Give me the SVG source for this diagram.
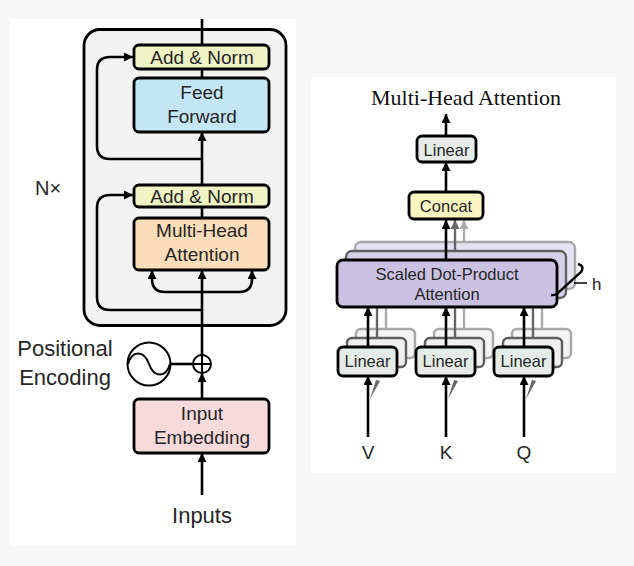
<svg xmlns="http://www.w3.org/2000/svg" width="634" height="566" viewBox="0 0 634 566">
<defs>
<style>
.lbl{font-family:"Liberation Sans",Arial,sans-serif;fill:#262626;text-anchor:middle}
.box{stroke:#000;stroke-width:2.8}
.ln{fill:none;stroke:#000;stroke-width:2.6}
.g1{fill:none;stroke:#666;stroke-width:2.4}
.g2{fill:none;stroke:#aaa;stroke-width:2.4}
</style>
<marker id="ah" viewBox="0 0 10 10" refX="10" refY="5" markerWidth="9" markerHeight="9" markerUnits="userSpaceOnUse" orient="auto"><path d="M0,0 L10,5 L0,10 Z" fill="#000"/></marker>
<marker id="ah1" viewBox="0 0 10 10" refX="10" refY="5" markerWidth="9" markerHeight="9" markerUnits="userSpaceOnUse" orient="auto"><path d="M0,0 L10,5 L0,10 Z" fill="#666"/></marker>
<marker id="ah2" viewBox="0 0 10 10" refX="10" refY="5" markerWidth="9" markerHeight="9" markerUnits="userSpaceOnUse" orient="auto"><path d="M0,0 L10,5 L0,10 Z" fill="#aaa"/></marker>
<filter id="blur" x="-10%" y="-10%" width="120%" height="120%"><feGaussianBlur stdDeviation="0.6"/></filter>
</defs>
<rect width="634" height="566" fill="#f7f7f7"/>
<rect x="10" y="19" width="286" height="527" fill="#fff"/>
<rect x="311" y="77" width="305" height="396" fill="#fff"/>

<g id="encoder">
<rect x="84" y="29.5" width="202" height="296" rx="16" fill="#f2f2f2" stroke="#000" stroke-width="2.8"/>
</g>
<text class="lbl" x="48" y="195" font-size="20">N×</text>

<g id="shadows" filter="url(#blur)">
<rect x="355" y="242" width="220" height="47" rx="6" fill="#e6e2f1" stroke="#a8a8a8" stroke-width="2.4"/>
<rect x="346" y="251" width="220" height="47" rx="6" fill="#d6cfe9" stroke="#5e5e5e" stroke-width="2.4"/>
<rect x="356" y="329" width="59" height="29" rx="5" fill="#f3f5f4" stroke="#a8a8a8" stroke-width="2.4"/>
<rect x="347" y="338" width="59" height="29" rx="5" fill="#eef1ef" stroke="#5e5e5e" stroke-width="2.4"/>
<rect x="434" y="329" width="59" height="29" rx="5" fill="#f3f5f4" stroke="#a8a8a8" stroke-width="2.4"/>
<rect x="425" y="338" width="59" height="29" rx="5" fill="#eef1ef" stroke="#5e5e5e" stroke-width="2.4"/>
<rect x="512" y="329" width="59" height="29" rx="5" fill="#f3f5f4" stroke="#a8a8a8" stroke-width="2.4"/>
<rect x="503" y="338" width="59" height="29" rx="5" fill="#eef1ef" stroke="#5e5e5e" stroke-width="2.4"/>
<path d="M370,399 L380,381 L376,380 Z" fill="#666"/>
<path d="M448,399 L458,381 L454,380 Z" fill="#666"/>
<path d="M526,399 L536,381 L532,380 Z" fill="#666"/>
</g>

<g id="connectors">
<path class="ln" d="M202,19 V45"/>
<path class="ln" d="M202,69 V78"/>
<path class="ln" d="M202,185 V132" marker-end="url(#ah)"/>
<path class="ln" d="M202,207 V218"/>
<path class="ln" d="M202,159 H110 Q97,159 97,146 V70 Q97,57 110,57 H133" marker-end="url(#ah)"/>
<path class="ln" d="M202,310 H110 Q97,310 97,297 V208 Q97,195 110,195 H133" marker-end="url(#ah)"/>
<path class="ln" d="M202,355 V270" marker-end="url(#ah)"/>
<path class="ln" d="M202,292 H165 Q152,292 152,279 V270" marker-end="url(#ah)"/>
<path class="ln" d="M202,292 H239 Q252,292 252,279 V270" marker-end="url(#ah)"/>
<path class="ln" d="M171,364 H192"/>
<path class="ln" d="M202,399 V373" marker-end="url(#ah)"/>
<path class="ln" d="M202,495 V453" marker-end="url(#ah)"/>

<path class="g2" d="M464,242 V220" marker-end="url(#ah2)"/>
<path class="g1" d="M455,251 V220" marker-end="url(#ah1)"/>
<path class="ln" d="M446,260 V220" marker-end="url(#ah)"/>
<path class="ln" d="M446,192 V162" marker-end="url(#ah)"/>
<path class="ln" d="M446,136 V114" marker-end="url(#ah)"/>
<path class="g2" d="M386,329 V289 M464,329 V289 M542,329 V289"/>
<path class="g1" d="M377,338 V298 M455,338 V298 M533,338 V298"/>
<path class="ln" d="M368,347 V307" marker-end="url(#ah)"/>
<path class="ln" d="M446,347 V307" marker-end="url(#ah)"/>
<path class="ln" d="M524,347 V307" marker-end="url(#ah)"/>
<path class="ln" d="M368,437 V376" marker-end="url(#ah)"/>
<path class="ln" d="M446,437 V376" marker-end="url(#ah)"/>
<path class="ln" d="M524,437 V376" marker-end="url(#ah)"/>
</g>

<g id="addnorm2"><rect class="box" x="134" y="45" width="135" height="24" rx="5" fill="#f0f3c3"/><text class="lbl" x="202" y="64" font-size="19">Add &amp; Norm</text></g>
<g id="feedforward"><rect class="box" x="134" y="78" width="135" height="54" rx="5" fill="#c4e5f5"/><text class="lbl" x="202" y="99" font-size="19">Feed</text><text class="lbl" x="202" y="123" font-size="19">Forward</text></g>
<g id="addnorm1"><rect class="box" x="134" y="185" width="135" height="22" rx="5" fill="#f0f3c3"/><text class="lbl" x="202" y="203" font-size="19">Add &amp; Norm</text></g>
<g id="mha"><rect class="box" x="134" y="218" width="135" height="52" rx="5" fill="#fcdcb9"/><text class="lbl" x="202" y="237" font-size="19">Multi-Head</text><text class="lbl" x="202" y="261" font-size="19">Attention</text></g>
<g id="posenc">
<circle cx="149" cy="364" r="21.5" fill="none" stroke="#000" stroke-width="2"/>
<path d="M128,364 C132,350 144,350 149,364 C154,378 166,378 170,364" fill="none" stroke="#000" stroke-width="2"/>
<text class="lbl" x="65" y="356" font-size="22">Positional</text>
<text class="lbl" x="65" y="385" font-size="22">Encoding</text>
</g>
<g id="plus">
<circle cx="202" cy="364" r="9" fill="#fff" stroke="#000" stroke-width="2"/>
<path d="M193,364 H211 M202,355 V373" stroke="#000" stroke-width="2"/>
</g>
<g id="embedding"><rect class="box" x="134" y="399" width="135" height="54" rx="5" fill="#f9dadc"/><text class="lbl" x="202" y="420" font-size="19">Input</text><text class="lbl" x="202" y="444" font-size="19">Embedding</text></g>
<g id="inputs"><text class="lbl" x="202" y="523" font-size="22">Inputs</text></g>

<g id="title"><text x="466" y="105" font-family="Liberation Serif,'Times New Roman',serif" font-size="22" fill="#111" text-anchor="middle">Multi-Head Attention</text></g>
<g id="linear-out"><rect class="box" x="417" y="136" width="59" height="26" rx="5" fill="#e5ece8"/><text class="lbl" x="446.5" y="155.5" font-size="16.5">Linear</text></g>
<g id="concat"><rect class="box" x="409" y="192" width="74" height="27" rx="5" fill="#fbf5c2"/><text class="lbl" x="446" y="211.5" font-size="16.5">Concat</text></g>
<g id="sdpa"><rect class="box" x="337" y="260" width="220" height="47" rx="6" fill="#cbc2e3"/><text class="lbl" x="447" y="280" font-size="16.5">Scaled Dot-Product</text><text class="lbl" x="447" y="300" font-size="16.5">Attention</text></g>
<g id="heads">
<path d="M578,264 Q585,266 581,272 L560,291 Q556,296 551,295" fill="none" stroke="#000" stroke-width="2.4"/>
<path d="M574,283 H587" stroke="#000" stroke-width="1.5"/>
<text x="592" y="290" font-family="Liberation Sans,Arial,sans-serif" font-size="17" fill="#222">h</text>
</g>
<g id="linear-v"><rect class="box" x="338" y="347" width="59" height="29" rx="5" fill="#e5ece8"/><text class="lbl" x="367.5" y="367" font-size="16.5">Linear</text></g>
<g id="linear-k"><rect class="box" x="416" y="347" width="59" height="29" rx="5" fill="#e5ece8"/><text class="lbl" x="445.5" y="367" font-size="16.5">Linear</text></g>
<g id="linear-q"><rect class="box" x="494" y="347" width="59" height="29" rx="5" fill="#e5ece8"/><text class="lbl" x="523.5" y="367" font-size="16.5">Linear</text></g>
<g id="vkq">
<text class="lbl" x="368" y="459" font-size="19">V</text>
<text class="lbl" x="446" y="459" font-size="19">K</text>
<text class="lbl" x="524" y="459" font-size="19">Q</text>
</g>
</svg>
